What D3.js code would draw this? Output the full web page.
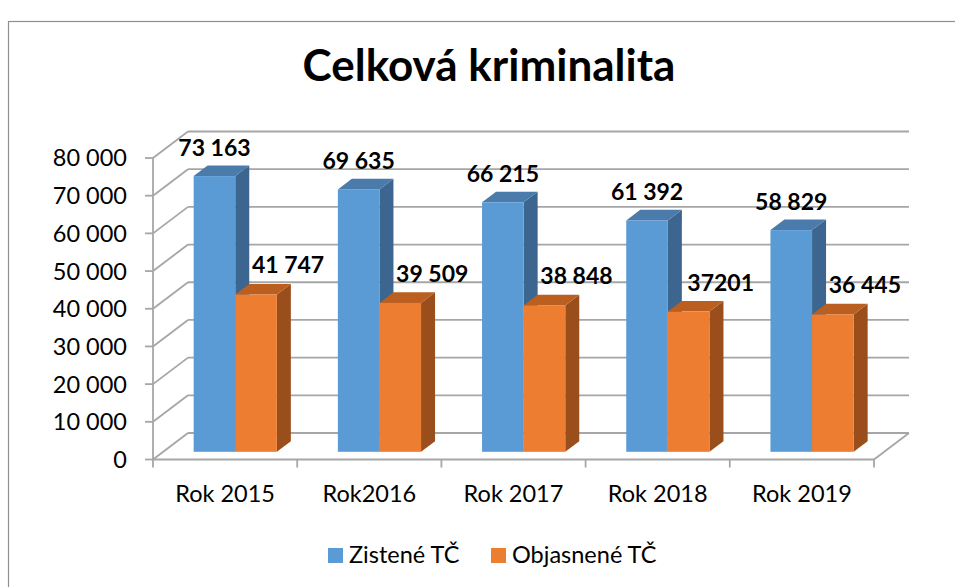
<!DOCTYPE html>
<html>
<head>
<meta charset="utf-8">
<script src="https://cdn.jsdelivr.net/npm/d3@7"></script>
<style>
  body { margin: 0; background: #fff; }
  svg { display: block; font-family: Lato, 'Open Sans', sans-serif; }
  .grid line, .grid path { stroke: #a6a6a6; stroke-width: 1.8; fill: none; }
</style>
</head>
<body>
<svg id="chart" width="955" height="587"></svg>
<script>
// data
var categories = ['Rok 2015', 'Rok2016', 'Rok 2017', 'Rok 2018', 'Rok 2019']
var zistene = [73163, 69635, 66215, 61392, 58829]
var objasnene = [41747, 39509, 38848, 37201, 36445]
var zisteneLabels = ['73 163', '69 635', '66 215', '61 392', '58 829']
var objasneneLabels = ['41 747', '39 509', '38 848', '37201', '36 445']
var yTicks = [0, 10000, 20000, 30000, 40000, 50000, 60000, 70000, 80000]
var seriesNames = ['Zistené TČ', 'Objasnené TČ']

var colors = {
  z: {front: '#5b9bd5', top: '#4a7bab', side: '#3c658f'},
  o: {front: '#ed7d31', top: '#bb5f20', side: '#9a4e1c'}
}

var svg = d3.select('#chart')

// outer chart border
svg.append('rect')
  .attr('x', 8.5).attr('y', 21.5)
  .attr('width', 1000).attr('height', 1000)
  .attr('fill', 'none').attr('stroke', '#8f8f8f').attr('stroke-width', 1.2)

svg.append('text')
  .attr('x', 489).attr('y', 81)
  .attr('text-anchor', 'middle')
  .style('font-size', '44px').style('font-weight', 700)
  .text('Celková kriminalita')

/*
    --------------------------------------
    Scales + pseudo 3d projection
*/
var x = d3.scaleBand().domain(categories).range([153, 874])
var x1 = d3.scaleBand().domain(['z', 'o']).range([0, x.bandwidth()]).paddingOuter(0.733)
var y = d3.scaleLinear().domain([0, 80000]).range([459.5, 158])

var depthX = 35
var depthY = -26.5
function dx (z) { return depthX * z }
function dy (z) { return depthY * z }

var barFront = 0.29
var barDepth = 0.4

var fmt = function (v) { return d3.format(',')(v).replace(/,/g, ' ') }

/*
    --------------------------------------
    Walls, floor, gridlines
*/
var grid = svg.append('g').classed('grid', true)
var x0 = x.range()[0]
var xEnd = x.range()[1]

grid.selectAll('.back').data(yTicks).enter()
  .append('line')
  .attr('x1', x0 + dx(1)).attr('x2', xEnd + dx(1))
  .attr('y1', d => y(d) + dy(1)).attr('y2', d => y(d) + dy(1))

grid.selectAll('.side').data(yTicks).enter()
  .append('line')
  .attr('x1', x0).attr('x2', x0 + dx(1))
  .attr('y1', d => y(d)).attr('y2', d => y(d) + dy(1))

// floor front edge + right edge
grid.append('line')
  .attr('x1', x0).attr('x2', xEnd)
  .attr('y1', y(0)).attr('y2', y(0))
grid.append('line')
  .attr('x1', xEnd).attr('x2', xEnd + dx(1))
  .attr('y1', y(0)).attr('y2', y(0) + dy(1))

// vertical axis
grid.append('line')
  .attr('x1', x0).attr('x2', x0)
  .attr('y1', y(0)).attr('y2', y(80000))

grid.selectAll('.ytick').data(yTicks).enter()
  .append('line')
  .attr('x1', x0 - 8).attr('x2', x0)
  .attr('y1', d => y(d)).attr('y2', d => y(d))

var catEdges = categories.map(c => x(c)).concat([xEnd])
grid.selectAll('.xtick').data(catEdges).enter()
  .append('line')
  .attr('x1', d => d).attr('x2', d => d)
  .attr('y1', y(0)).attr('y2', y(0) + 8)

svg.append('g').selectAll('text').data(yTicks).enter()
  .append('text')
  .attr('x', 127).attr('y', d => y(d))
  .attr('dy', '0.36em')
  .attr('text-anchor', 'end')
  .style('font-size', '23.5px')
  .text(fmt)

svg.append('g').selectAll('text').data(categories).enter()
  .append('text')
  .attr('x', d => x(d) + x.bandwidth() / 2).attr('y', 502)
  .attr('text-anchor', 'middle')
  .style('font-size', '23.5px')
  .text(d => d)

/*
    --------------------------------------
    Bars
*/
var bars = []
categories.forEach(function (c, i) {
  bars.push({cat: c, key: 'z', value: zistene[i], label: zisteneLabels[i]})
  bars.push({cat: c, key: 'o', value: objasnene[i], label: objasneneLabels[i]})
})

function face (pts) {
  return 'M' + pts.map(p => p.join(',')).join('L') + 'Z'
}

var gBars = svg.append('g')
bars.forEach(function (b) {
  var left = x(b.cat) + x1(b.key) + dx(barFront)
  var right = left + x1.bandwidth()
  var top = y(b.value) + dy(barFront)
  var bottom = y(0) + dy(barFront)
  var ox = dx(barDepth)
  var oy = dy(barDepth)
  var col = colors[b.key]
  var g = gBars.append('g')
  g.append('path')
    .attr('d', face([[right, top], [right + ox, top + oy], [right + ox, bottom + oy], [right, bottom]]))
    .attr('fill', col.side)
  g.append('path')
    .attr('d', face([[left, top], [left + ox, top + oy], [right + ox, top + oy], [right, top]]))
    .attr('fill', col.top)
  g.append('rect')
    .attr('x', left).attr('y', top)
    .attr('width', right - left).attr('height', bottom - top)
    .attr('fill', col.front)
  b.lx = (left + right) / 2 + (b.key === 'o' ? 32 : 0)
  b.ly = top - (b.key === 'o' ? 21 : 20)
})

svg.append('g').selectAll('text').data(bars).enter()
  .append('text')
  .attr('x', d => d.lx).attr('y', d => d.ly)
  .attr('text-anchor', 'middle')
  .style('font-size', '23px').style('font-weight', 700)
  .text(d => d.label)

/*
    --------------------------------------
    Legend
*/
var legend = svg.append('g')
var legendX = [328, 491]
seriesNames.forEach(function (name, i) {
  var key = i === 0 ? 'z' : 'o'
  legend.append('rect')
    .attr('x', legendX[i]).attr('y', 548)
    .attr('width', 15).attr('height', 15)
    .attr('fill', colors[key].front)
  legend.append('text')
    .attr('x', legendX[i] + 21).attr('y', 563)
    .style('font-size', '23.5px')
    .text(name)
})
</script>
</body>
</html>
